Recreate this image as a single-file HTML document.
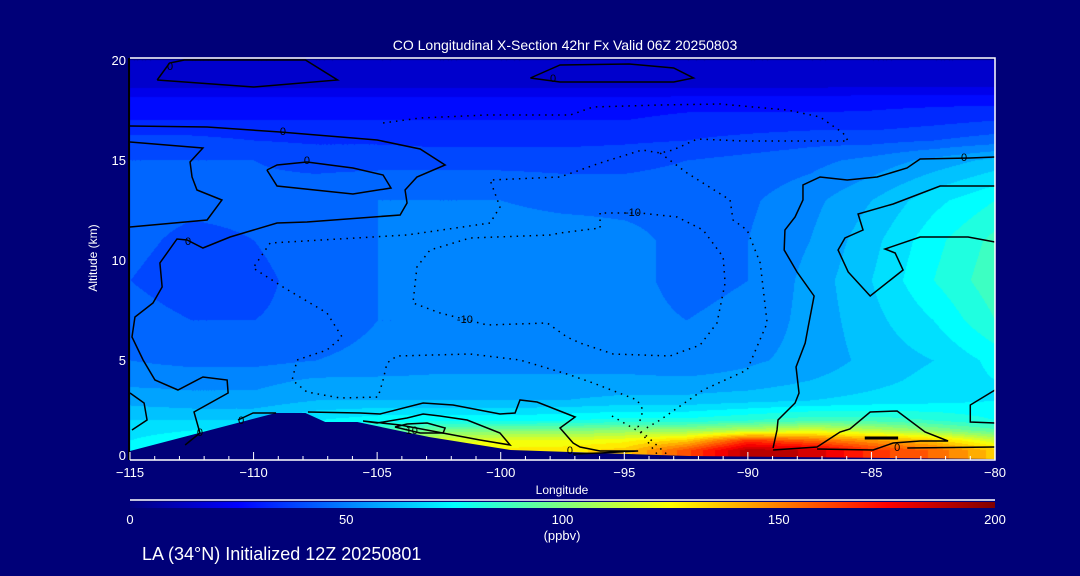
<!DOCTYPE html>
<html><head><meta charset="utf-8"><style>
html,body{margin:0;padding:0;background:#000078;width:1080px;height:576px;overflow:hidden}
#wrap{position:relative;width:1080px;height:576px}
canvas,svg{position:absolute;left:0;top:0}
text{font-family:"Liberation Sans",sans-serif}
</style></head><body>
<div id="wrap">
<canvas id="fill" width="1080" height="576"></canvas>
<svg id="svg" width="1080" height="576"></svg>
</div>
<script>
const lons=[-115,-112.5,-110,-107.5,-105,-102.5,-100,-97.5,-95,-92.5,-90,-87.5,-85,-82.5,-80];
const alts=[0,0.5,1,1.5,2,3,4,5,7,9,11,13,15,16,17,18,19,20];
const coRows=[
[76,80,85,95,112,125,128,130,135,160,190,185,165,155,135],
[76,80,85,95,112,125,128,130,135,160,190,185,165,155,135],
[72,76,80,90,105,118,120,120,124,135,165,155,145,135,115],
[70,72,74,80,90,98,100,100,104,105,112,118,112,102,92],
[66,66,66,72,76,76,76,78,80,80,84,88,88,84,78],
[58,56,56,60,60,60,60,60,62,62,64,66,68,70,72],
[52,52,52,55,55,55,55,55,55,55,56,60,64,68,72],
[48,46,46,48,50,52,52,52,52,50,53,56,62,66,74],
[45,42,42,44,48,48,50,50,50,48,50,56,64,72,84],
[42,38,40,45,48,50,52,53,50,46,48,56,66,78,88],
[44,40,42,46,48,50,52,52,50,46,48,54,64,76,86],
[45,44,44,46,48,48,48,46,46,46,47,52,60,70,78],
[42,42,42,40,40,40,40,40,40,42,44,46,50,56,62],
[38,38,36,35,35,34,34,34,35,36,38,40,40,42,45],
[30,30,30,30,30,30,30,30,30,32,32,32,32,34,36],
[26,26,26,26,26,26,26,26,26,27,27,27,28,28,28],
[13,13,13,13,13,13,13,13,13,13,13,13,13,13,13],
[12,12,12,12,12,12,12,12,12,12,12,12,12,12,12]];
const terrainLon=[-115,-115,-109.1,-107.9,-107.1,-105.8,-102.9,-99.6,-92.4,-80,-80];
const terrainAlt=[0,0.45,2.35,2.35,1.9,1.9,1.15,0.5,0.2,0.05,0];
const solidContours=[
[[-113.9,19],[-113.4,19.85],[-112.8,20],[-107.9,20],[-106.6,19],[-110,18.65],[-113.9,19]],
[[-98.8,19.1],[-97.6,19.75],[-94.8,19.8],[-93.0,19.6],[-92.2,19.1],[-93.0,18.9],[-97.6,18.9],[-98.8,19.1]],
[[-115,16.7],[-111.88,16.65],[-108.93,16.4],[-105,16],[-103.26,15.55],[-102.25,14.75],[-103.39,14.15],[-103.87,13.5],[-103.79,12.85],[-104.07,12.25],[-107.84,11.9],[-109.05,11.85],[-110.95,11.15],[-112.05,10.6],[-112.69,11],[-113.1,11.05],[-113.79,9.85],[-113.7,8.65],[-114.07,7.85],[-114.8,7.15],[-114.92,6.15],[-114.47,5],[-113.99,4],[-113.06,3.5],[-112.05,4.15],[-111.07,4],[-111.03,3.35],[-112.41,2.4],[-112.17,1.35],[-112.77,0.75]],
[[-109.46,14.5],[-109.05,14.75],[-107.84,14.9],[-105.98,14.6],[-104.76,14.25],[-104.44,13.6],[-105.98,13.3],[-109.05,13.7],[-109.46,14.5]],
[[-115,15.9],[-112.05,15.6],[-112.57,14.9],[-112.49,14.15],[-112.29,13.5],[-111.28,13],[-111.88,12],[-115,11.65]],
[[-80,15.15],[-81.01,15.1],[-83.03,15.05],[-83.56,14.6],[-84.77,14.15],[-85.98,14],[-87.08,14.15],[-87.77,13.75],[-87.77,13],[-88.09,12.15],[-88.5,11.5],[-88.53,10.5],[-88.01,9.4],[-87.32,8.2],[-87.56,6.65],[-87.68,5.85],[-88.05,4.65],[-87.93,3.35],[-88.09,2.85],[-88.78,2],[-88.82,1.5],[-88.98,0.6]],
[[-80,13.7],[-82.22,13.7],[-84.12,12.8],[-85.54,12.3],[-85.34,11.5],[-86.07,11.1],[-86.35,10.5],[-85.94,9.4],[-85.05,8.2],[-83.72,9.5],[-84.04,10.35],[-84.45,10.55],[-83.03,11.15],[-81.09,11.15],[-80,10.9]],
[[-107.8,2.4],[-105.69,2.35],[-104.88,2.3],[-103.14,2.85],[-101.93,2.75],[-100.03,2.3],[-99.42,2.35],[-99.22,3],[-98.53,2.9],[-96.99,2.15],[-97.6,1.6],[-97.07,0.85],[-96.79,0.65],[-95.98,0.45],[-94.44,0.45],[-95.98,0.35],[-97.07,0.3]],
[[-105.57,1.95],[-105.0,1.85],[-103.79,2.1],[-103.14,2.3],[-102.46,2.2],[-101.36,2.0],[-100.03,1.35],[-99.62,0.75],[-100.84,1.0],[-104.07,1.75],[-105.57,1.95]],
[[-104.28,1.65],[-103.79,1.8],[-102.98,1.85],[-102.25,1.6],[-102.33,1.35],[-103.26,1.35],[-104.28,1.65]],
[[-88.98,0.5],[-87.2,0.65],[-86.27,1.4],[-85.87,1.55],[-85.05,2.4],[-83.96,2.45],[-82.83,1.4],[-81.9,0.95],[-83.03,0.95],[-84.12,0.85],[-84.93,0.5],[-87.2,0.55]],
[[-83.55,0.6],[-80,0.65]],
[[-80,3.5],[-81.0,2.75],[-81.0,1.9],[-80,1.85]],
[[-115,3.35],[-114.43,2.85],[-114.31,2],[-114.92,1.5]],
[[-110.63,2],[-110.02,2.35],[-109.09,2.35]]];
const barSeg=[[-85.27,1.1],[-83.92,1.1]];
const dottedContours=[
[[-95.98,12.35],[-95.98,11.6],[-97.6,11.35],[-98.0,11.25],[-101.24,11.1],[-102.86,10.5],[-103.39,9.65],[-103.55,7.85],[-102.45,7.35],[-100.55,6.75],[-98.12,6.85],[-97.32,6.15],[-96.79,5.85],[-95.45,5.3],[-93.15,5.2],[-91.93,5.75],[-91.25,6.85],[-90.92,8.85],[-91.0,10.15],[-91.81,11.5],[-92.86,12.15],[-94.36,12.35],[-95.98,12.35]],
[[-104.76,16.85],[-103.26,17.1],[-100.55,17.25],[-97.19,17.25],[-96.26,17.65],[-93.55,17.75],[-91.12,17.8],[-88.41,17.5],[-87.08,17.15],[-86.15,16.35],[-85.94,15.95],[-88.17,15.95],[-90.19,15.95],[-92.05,16.05],[-93.03,15.5],[-93.55,15.35],[-94.28,15.5],[-95.98,14.85],[-97.6,14.15],[-100.43,14],[-100.03,12.65],[-100.43,11.85],[-103.79,11.25],[-109.33,10.85],[-110.02,9.6],[-108.81,8.65],[-107.03,7.35],[-106.42,6.15],[-107.03,5.5],[-108.24,5],[-108.44,4],[-107.84,3.4],[-106.5,3.1],[-104.96,3.15],[-104.76,4],[-104.6,4.85],[-104.2,5.2],[-101.24,5.3],[-99.22,5],[-97.19,4.25],[-96.26,3.85],[-94.48,3],[-94.24,2.5],[-94.44,1.65],[-93.96,0.75],[-93.55,0.1]],
[[-93.55,15.35],[-92.46,14.35],[-90.72,13],[-90.6,12],[-90.03,11.5],[-89.5,9.85],[-89.22,6.85],[-90.03,4.5],[-91.81,3.5],[-93.55,2],[-94.24,1.5]],
[[-95.5,2.2],[-94.1,1.2],[-93.2,0.2]]];
const labelText=["0","0","0","0","0","0","0","0","0","0","10","-10","-10"];
const labelLon=[-113.38,-108.81,-107.84,-112.65,-110.5,-112.17,-97.88,-81.25,-83.96,-97.2,-103.6,-94.65,-101.45];
const labelAlt=[19.7,16.45,15,10.95,2.0,1.4,19.1,15.15,0.65,0.5,1.5,12.4,7.05];
const xTicks=[-115,-110,-105,-100,-95,-90,-85,-80];
const xTickText=["\u2212115","\u2212110","\u2212105","\u2212100","\u221295","\u221290","\u221285","\u221280"];
const yTicks=[0,5,10,15,20];
const cbTicks=[0,50,100,150,200];

const X0=130,X1=995,Y0=460,Y1=60;
const xs=l=>X0+(l+115)/35*(X1-X0);
const ys=a=>Y0-a/20*(Y0-Y1);
const cbx=v=>X0+v/200*(X1-X0);
function jet(v){let t=Math.max(0,Math.min(1,v/200));
 const f=(x)=>Math.max(0,Math.min(1,1.5-Math.abs(4*t-x)));
 return [f(3)*255,f(2)*255,f(1)*255];}
function interp(lon,alt){
 let i=0;while(i<lons.length-2&&lon>lons[i+1])i++;
 let j=0;while(j<alts.length-2&&alt>alts[j+1])j++;
 const tx=Math.max(0,Math.min(1,(lon-lons[i])/(lons[i+1]-lons[i])));
 const ty=Math.max(0,Math.min(1,(alt-alts[j])/(alts[j+1]-alts[j])));
 const a=coRows[j][i],b=coRows[j][i+1],c=coRows[j+1][i],d=coRows[j+1][i+1];
 return a*(1-tx)*(1-ty)+b*tx*(1-ty)+c*(1-tx)*ty+d*tx*ty;}
const cv=document.getElementById('fill'),ctx=cv.getContext('2d');
const img=ctx.createImageData(X1-X0,Y0-Y1);
for(let py=0;py<Y0-Y1;py++){for(let px=0;px<X1-X0;px++){
 const lon=-115+px/(X1-X0)*35,alt=20-py/(Y0-Y1)*20;
 let v=interp(lon,alt);v=Math.floor(v/6)*6+3;
 const c=jet(v),k=(py*(X1-X0)+px)*4;
 img.data[k]=c[0];img.data[k+1]=c[1];img.data[k+2]=c[2];img.data[k+3]=255;}}
ctx.putImageData(img,X0,Y1);

const svg=document.getElementById('svg');const NS='http://www.w3.org/2000/svg';
function mk(tag,attrs,parent){const e=document.createElementNS(NS,tag);for(const k in attrs)e.setAttribute(k,attrs[k]);(parent||svg).appendChild(e);return e;}
let tp=terrainLon.map((l,i)=>xs(l)+','+ys(terrainAlt[i])).join(' ');
let terr=mk('polygon',{points:tp,fill:'#000078'});


solidContours.forEach(c=>{let p=mk('polyline',{points:c.map(q=>xs(q[0])+','+ys(q[1])).join(' '),fill:'none',stroke:'#000','stroke-width':1.5});

});
let bar=mk('line',{x1:xs(barSeg[0][0]),y1:ys(barSeg[0][1]),x2:xs(barSeg[1][0]),y2:ys(barSeg[1][1]),stroke:'#000','stroke-width':3});


dottedContours.forEach(c=>{let p=mk('polyline',{points:c.map(q=>xs(q[0])+','+ys(q[1])).join(' '),fill:'none',stroke:'#000','stroke-width':1.5,'stroke-dasharray':'1.5 5'});

});
labelText.forEach((t,i)=>{let e=mk('text',{x:xs(labelLon[i]),y:ys(labelAlt[i])+4,'font-size':11,fill:'#000','text-anchor':'middle'});e.textContent=t;

});
let fr=mk('polyline',{points:`${X0},${Y1-2} ${X1},${Y1-2} ${X1},${Y0} ${X0},${Y0}`,fill:'none',stroke:'#fff','stroke-width':1.5});


let la=mk('line',{x1:X0-1,y1:Y1-2,x2:X0-1,y2:Y0,stroke:'#000','stroke-width':2});


for(let l=-115;l<=-80;l++){const maj=(l%5===0);let t=mk('line',{x1:xs(l),y1:Y0,x2:xs(l),y2:Y0-(maj?8:4),stroke:'#fff','stroke-width':1});

}
xTicks.forEach((l,i)=>{let e=mk('text',{x:xs(l),y:Y0+17,'font-size':13,fill:'#fff','text-anchor':'middle'});e.textContent=xTickText[i];

});
yTicks.forEach(a=>{let e=mk('text',{x:X0-4,y:Math.min(ys(a)+5,Y0),'font-size':13,fill:'#fff','text-anchor':'end'});e.textContent=a;

});
let title=mk('text',{x:565,y:50,'font-size':14,fill:'#fff','text-anchor':'middle','xml:space':'preserve'});title.textContent='CO Longitudinal X-Section 42hr  Fx Valid 06Z 20250803';


let xt=mk('text',{x:562,y:494,'font-size':12,fill:'#fff','text-anchor':'middle'});xt.textContent='Longitude';


let yt=mk('text',{x:0,y:0,'font-size':12,fill:'#fff','text-anchor':'middle',transform:'translate(97,258) rotate(-90)'});yt.textContent='Altitude (km)';


const defs=mk('defs',{});const g=mk('linearGradient',{id:'jet',x1:0,x2:1,y1:0,y2:0},defs);
[[0,'#00007f'],[0.125,'#0000ff'],[0.375,'#00ffff'],[0.625,'#ffff00'],[0.875,'#ff0000'],[1,'#7f0000']].forEach(s=>mk('stop',{offset:s[0],'stop-color':s[1]},g));
let cl=mk('line',{x1:X0,y1:500,x2:X1,y2:500,stroke:'#fff','stroke-width':1.5});


let cb=mk('rect',{x:X0,y:502,width:X1-X0,height:6,fill:'url(#jet)'});


cbTicks.forEach(v=>{let e=mk('text',{x:cbx(v),y:524,'font-size':13,fill:'#fff','text-anchor':'middle'});e.textContent=v;

});
let un=mk('text',{x:562,y:540,'font-size':13,fill:'#fff','text-anchor':'middle'});un.textContent='(ppbv)';


let ft=mk('text',{x:142,y:560,'font-size':18,fill:'#fff'});ft.textContent='LA (34°N) Initialized 12Z 20250801';


</script>
</body></html>
